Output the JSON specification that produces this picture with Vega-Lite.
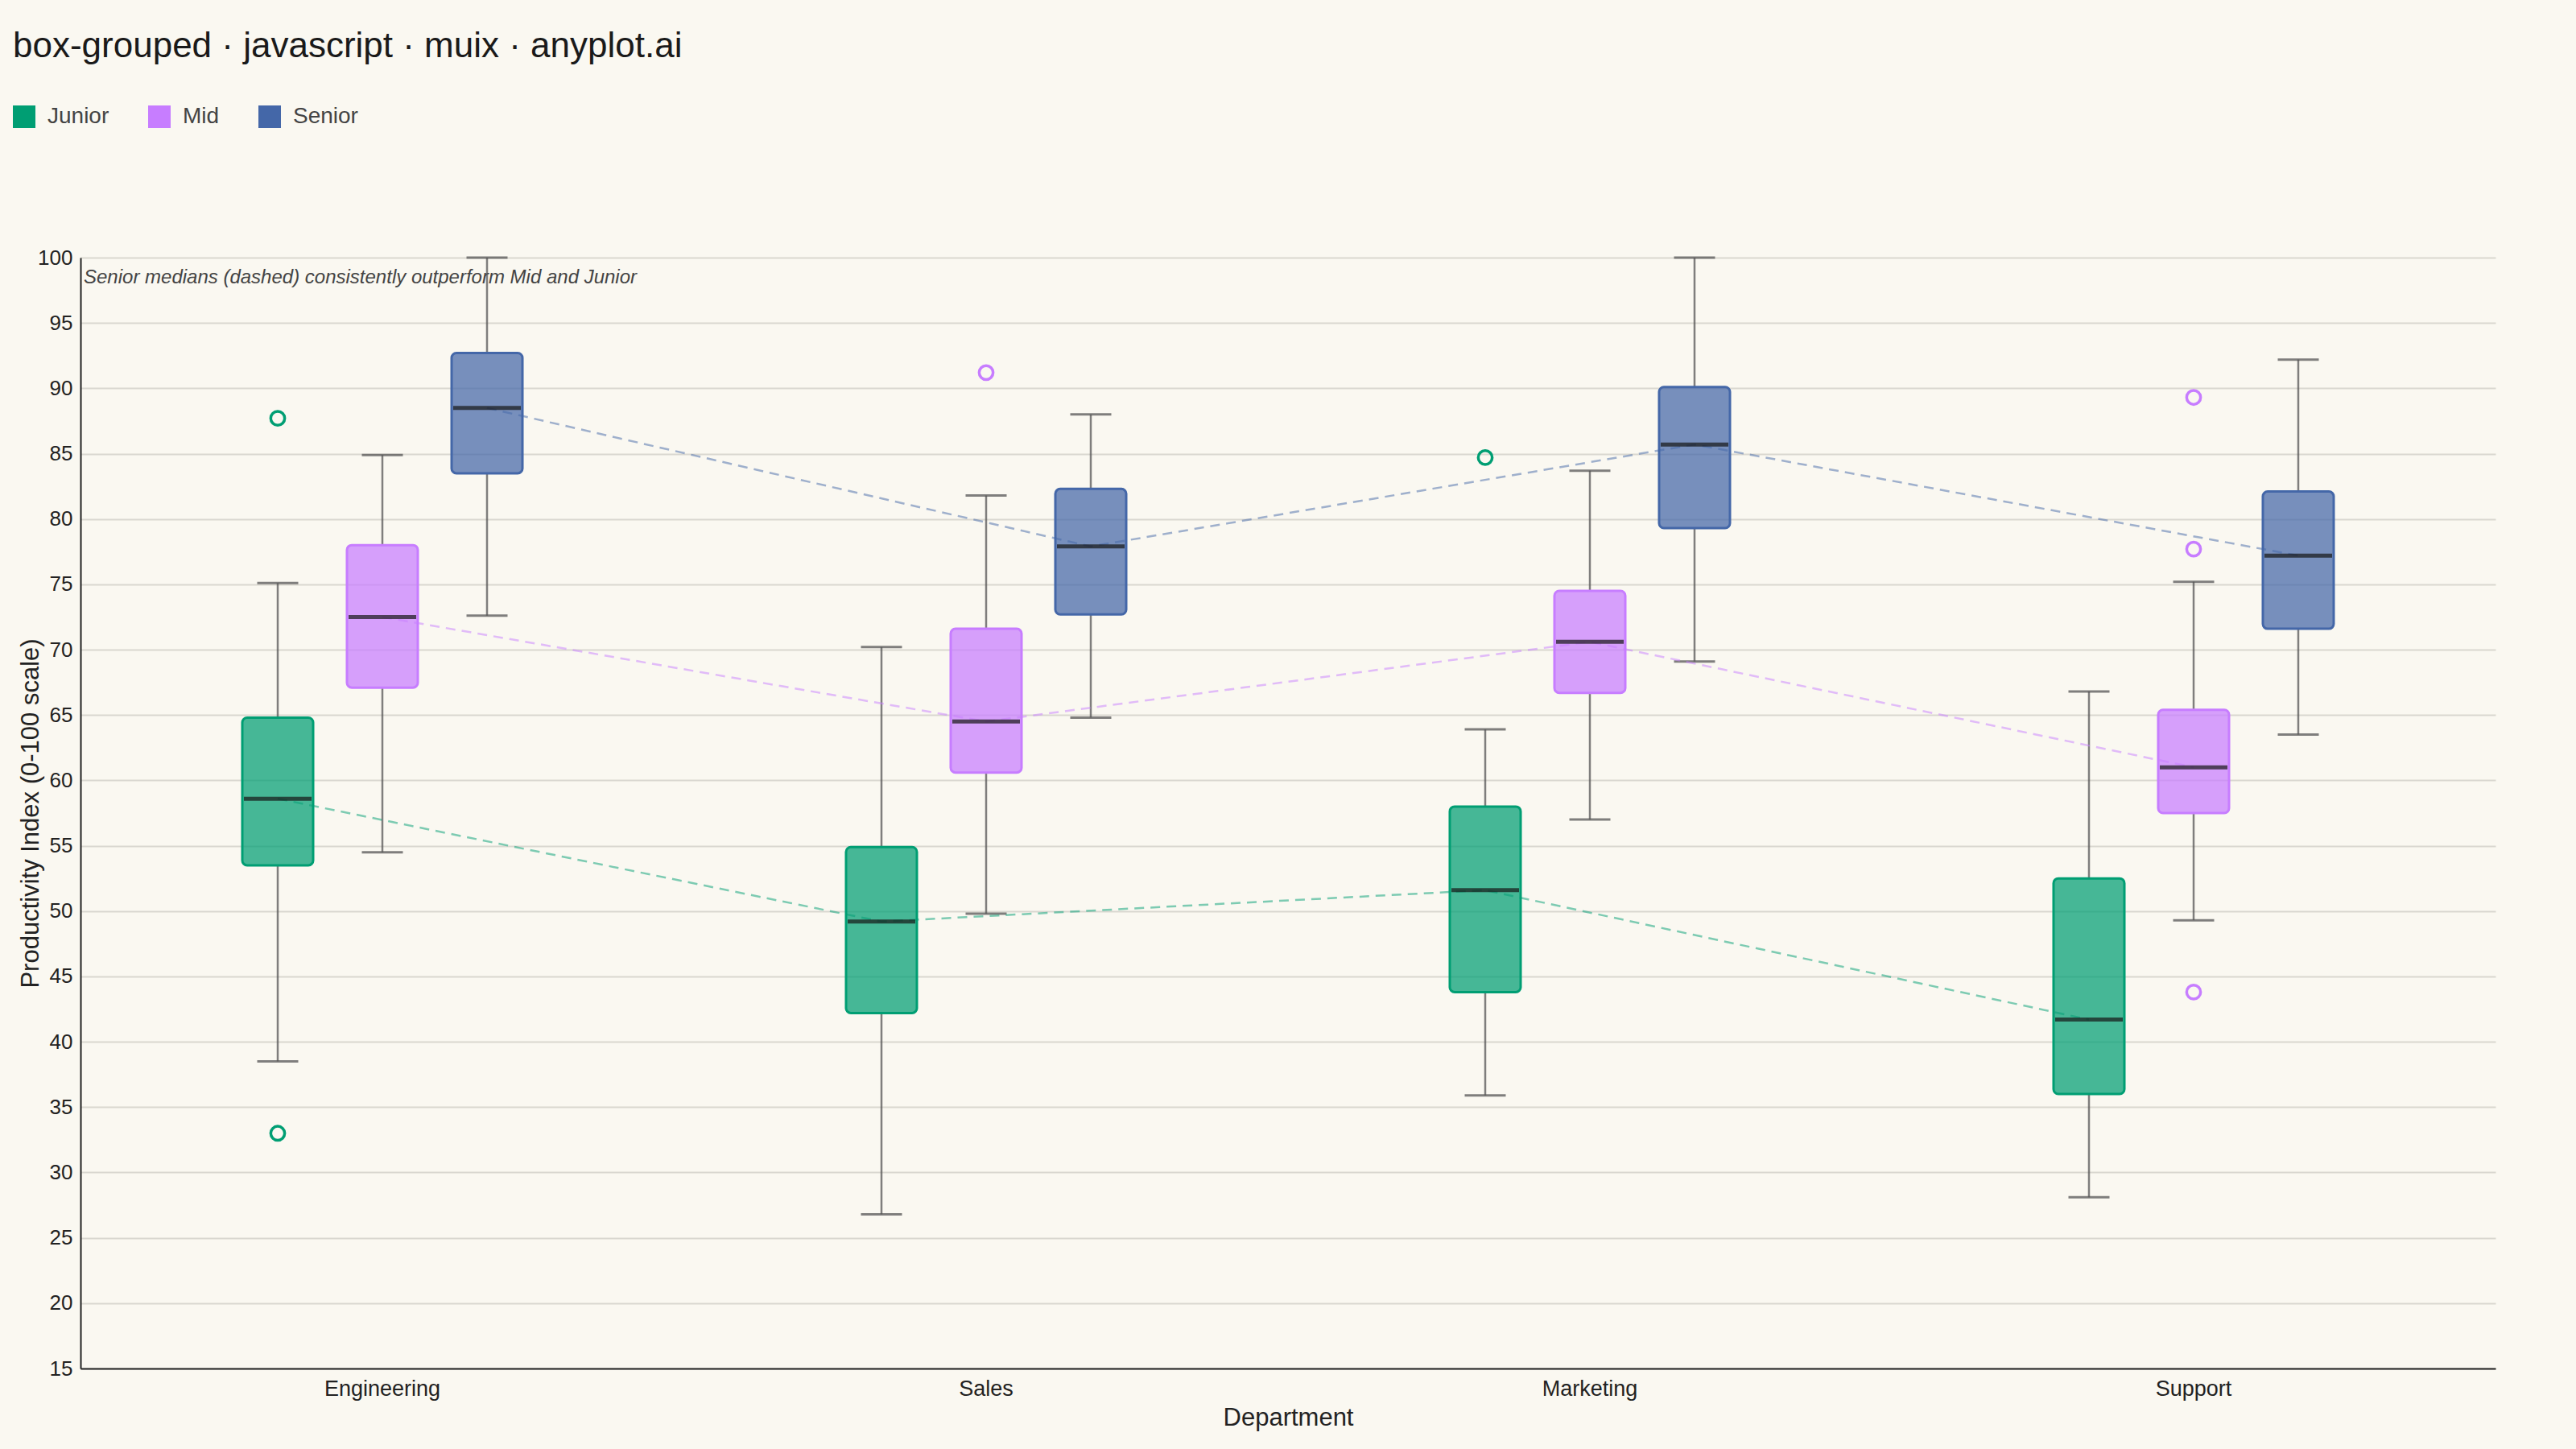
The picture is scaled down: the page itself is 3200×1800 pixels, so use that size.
{
  "$schema": "https://vega.github.io/schema/vega-lite/v6.json",
  "autosize": {"type": "none"},
  "width": 3000,
  "height": 1380,
  "padding": {"left": 100, "top": 320, "right": 100, "bottom": 100},
  "background": "#FAF8F1",
  "title": {
    "text": "box-grouped · javascript · muix · anyplot.ai",
    "anchor": "start",
    "frame": "group",
    "dx": -84,
    "offset": 51,
    "fontSize": 44,
    "fontWeight": "normal",
    "color": "#1a1a1a"
  },
  "datasets": {
    "boxes": [
      {"department": "Engineering", "level": "Junior", "lower": 38.5, "q1": 53.5, "median": 58.6, "q3": 64.8, "upper": 75.1},
      {"department": "Engineering", "level": "Mid", "lower": 54.5, "q1": 67.1, "median": 72.5, "q3": 78.0, "upper": 84.9},
      {"department": "Engineering", "level": "Senior", "lower": 72.6, "q1": 83.5, "median": 88.5, "q3": 92.7, "upper": 100},
      {"department": "Sales", "level": "Junior", "lower": 26.8, "q1": 42.2, "median": 49.2, "q3": 54.9, "upper": 70.2},
      {"department": "Sales", "level": "Mid", "lower": 49.8, "q1": 60.6, "median": 64.5, "q3": 71.6, "upper": 81.8},
      {"department": "Sales", "level": "Senior", "lower": 64.8, "q1": 72.7, "median": 77.9, "q3": 82.3, "upper": 88.0},
      {"department": "Marketing", "level": "Junior", "lower": 35.9, "q1": 43.8, "median": 51.6, "q3": 58.0, "upper": 63.9},
      {"department": "Marketing", "level": "Mid", "lower": 57.0, "q1": 66.7, "median": 70.6, "q3": 74.5, "upper": 83.7},
      {"department": "Marketing", "level": "Senior", "lower": 69.1, "q1": 79.3, "median": 85.7, "q3": 90.1, "upper": 100},
      {"department": "Support", "level": "Junior", "lower": 28.1, "q1": 36.0, "median": 41.7, "q3": 52.5, "upper": 66.8},
      {"department": "Support", "level": "Mid", "lower": 49.3, "q1": 57.5, "median": 61.0, "q3": 65.4, "upper": 75.2},
      {"department": "Support", "level": "Senior", "lower": 63.5, "q1": 71.6, "median": 77.2, "q3": 82.1, "upper": 92.2}
    ],
    "outliers": [
      {"department": "Engineering", "level": "Junior", "value": 87.7},
      {"department": "Engineering", "level": "Junior", "value": 33.0},
      {"department": "Sales", "level": "Mid", "value": 91.2},
      {"department": "Marketing", "level": "Junior", "value": 84.7},
      {"department": "Support", "level": "Mid", "value": 89.3},
      {"department": "Support", "level": "Mid", "value": 77.7},
      {"department": "Support", "level": "Mid", "value": 43.8}
    ],
    "note": [
      {"department": "Engineering", "value": 100, "text": "Senior medians (dashed) consistently outperform Mid and Junior"}
    ]
  },
  "encoding": {
    "x": {
      "field": "department",
      "type": "nominal",
      "scale": {"domain": ["Engineering", "Sales", "Marketing", "Support"], "paddingInner": 0, "paddingOuter": 0},
      "axis": {"title": "Department", "labelAngle": 0}
    },
    "xOffset": {
      "field": "level",
      "type": "nominal",
      "scale": {"domain": ["_lead", "Junior", "Mid", "Senior", "_tail"], "paddingInner": 0.323, "paddingOuter": 0.546}
    }
  },
  "layer": [
    {
      "data": {"name": "boxes"},
      "mark": {"type": "rule", "color": "#555555", "opacity": 0.75, "strokeWidth": 2.5},
      "encoding": {
        "y": {"field": "lower", "type": "quantitative", "scale": {"domain": [15, 100], "nice": false, "zero": false},
          "axis": {"title": "Productivity Index (0-100 scale)", "values": [15, 20, 25, 30, 35, 40, 45, 50, 55, 60, 65, 70, 75, 80, 85, 90, 95, 100]}},
        "y2": {"field": "q1"}
      }
    },
    {
      "data": {"name": "boxes"},
      "mark": {"type": "rule", "color": "#555555", "opacity": 0.75, "strokeWidth": 2.5},
      "encoding": {
        "y": {"field": "q3", "type": "quantitative"},
        "y2": {"field": "upper"}
      }
    },
    {
      "data": {"name": "boxes"},
      "mark": {"type": "tick", "color": "#555555", "opacity": 0.75, "thickness": 3, "size": 51},
      "encoding": {"y": {"field": "lower", "type": "quantitative"}}
    },
    {
      "data": {"name": "boxes"},
      "mark": {"type": "tick", "color": "#555555", "opacity": 0.75, "thickness": 3, "size": 51},
      "encoding": {"y": {"field": "upper", "type": "quantitative"}}
    },
    {
      "data": {"name": "boxes"},
      "mark": {"type": "bar", "fillOpacity": 0.72, "strokeWidth": 3, "cornerRadius": 6},
      "encoding": {
        "y": {"field": "q1", "type": "quantitative"},
        "y2": {"field": "q3"},
        "color": {
          "field": "level",
          "type": "nominal",
          "scale": {"domain": ["Junior", "Mid", "Senior"], "range": ["#009E73", "#C77DFF", "#4467A8"]},
          "legend": {"title": null, "orient": "none", "direction": "horizontal", "legendX": -84, "legendY": -189,
            "symbolType": "square", "symbolSize": 784, "symbolOpacity": 1, "symbolStrokeWidth": 0,
            "labelFontSize": 28, "labelColor": "#444444", "labelOffset": 15, "columnPadding": 48}
        },
        "stroke": {"field": "level", "type": "nominal", "scale": {"domain": ["Junior", "Mid", "Senior"], "range": ["#009E73", "#C77DFF", "#4467A8"]}, "legend": null}
      }
    },
    {
      "data": {"name": "boxes"},
      "mark": {"type": "line", "strokeDash": [12, 8], "strokeWidth": 2.5, "opacity": 0.5},
      "encoding": {
        "y": {"field": "median", "type": "quantitative"},
        "stroke": {"field": "level", "type": "nominal", "legend": null}
      }
    },
    {
      "data": {"name": "boxes"},
      "mark": {"type": "tick", "color": "#151515", "thickness": 5, "size": 84},
      "encoding": {"y": {"field": "median", "type": "quantitative"}}
    },
    {
      "data": {"name": "outliers"},
      "mark": {"type": "point", "shape": "circle", "filled": false, "size": 300, "strokeWidth": 3.5, "opacity": 1},
      "encoding": {
        "y": {"field": "value", "type": "quantitative"},
        "stroke": {"field": "level", "type": "nominal", "legend": null}
      }
    },
    {
      "data": {"name": "note"},
      "mark": {"type": "text", "align": "left", "baseline": "top", "dx": 4, "dy": 13, "fontSize": 24, "fontStyle": "italic", "color": "#444444"},
      "encoding": {
        "x": {"field": "department", "type": "nominal", "bandPosition": 0},
        "xOffset": null,
        "y": {"field": "value", "type": "quantitative"},
        "text": {"field": "text"}
      }
    }
  ],
  "config": {
    "font": "Liberation Sans",
    "view": {"stroke": null},
    "axis": {
      "labelColor": "#222222",
      "titleFontSize": 31,
      "titleFontWeight": "normal",
      "titleColor": "#222222",
      "domainColor": "#222222",
      "domainWidth": 2,
      "ticks": false,
      "labelPadding": 10
    },
    "axisY": {"grid": true, "gridColor": "#D9D7D0", "gridWidth": 2, "labelFontSize": 26,
      "titleX": -62, "titleY": 690, "titleBaseline": "middle", "titleAngle": -90},
    "axisX": {"grid": false, "labelFontSize": 27, "labelPadding": 12, "titlePadding": 8},
    "legend": {"labelFont": "Liberation Sans"}
  }
}
